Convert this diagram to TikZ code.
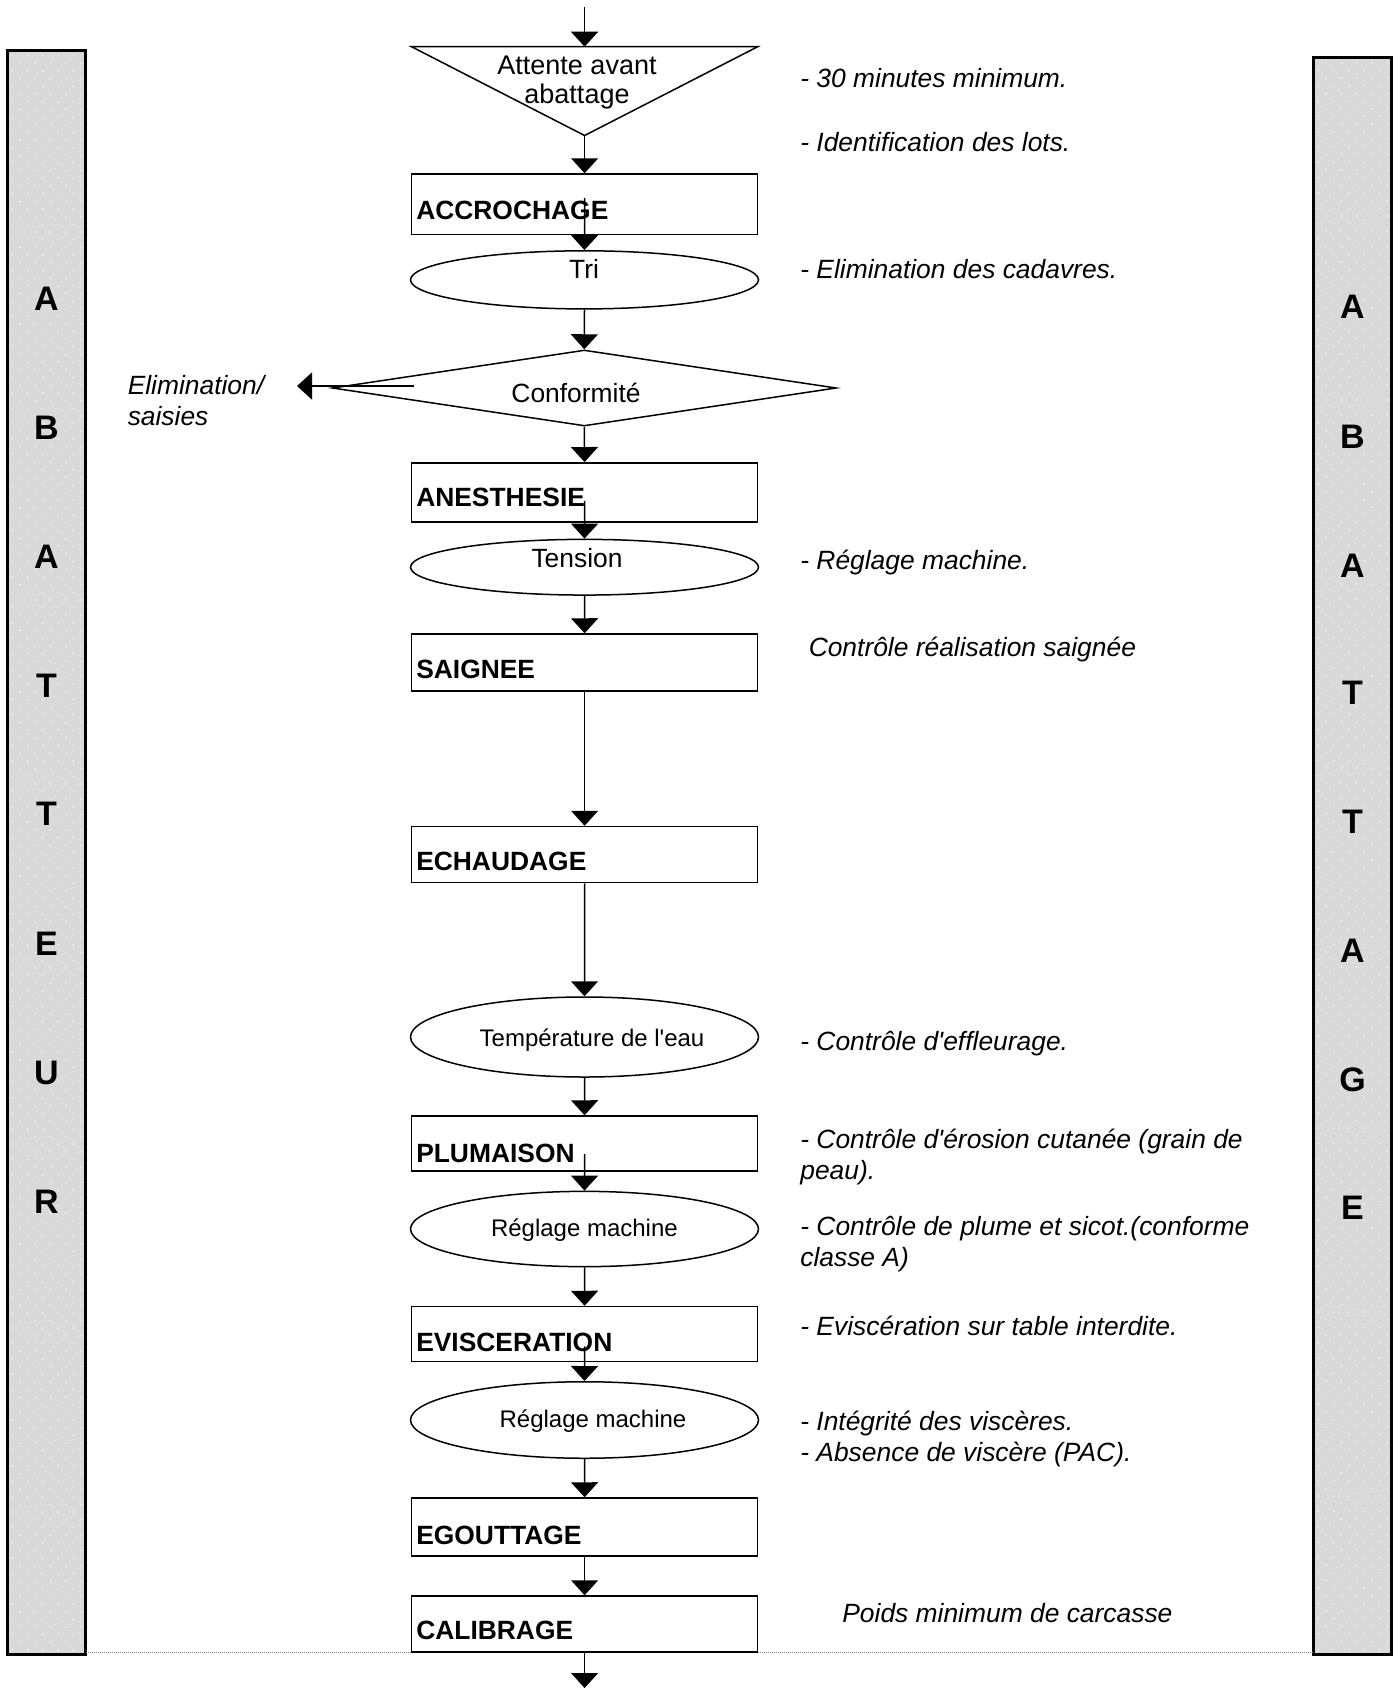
\documentclass[tikz,border=0pt]{standalone}
\usepackage{fontspec}
\setmainfont{Liberation Sans}[Ligatures=TeXOff]
\usetikzlibrary{shapes.geometric,arrows.meta}
\definecolor{barfill}{RGB}{217,217,217}
\definecolor{dotc}{RGB}{245,245,245}
\begin{document}
\begin{tikzpicture}[x=0.5pt,y=-0.5pt,
  line width=0.75pt,
  arr/.style={-{Triangle[width=13.5pt,length=7.5pt]}},
  stepbox/.style={draw, fill=white, rectangle, minimum width=173.1pt, inner sep=0pt},
  oval/.style={draw, fill=white, ellipse, minimum width=174pt, inner sep=0pt},
  sidebar/.style={draw, line width=0.85pt, fill=barfill, minimum width=38.5pt, inner sep=0pt},
  boxlabel/.style={anchor=west, font=\fontsize{13.2}{15}\selectfont\bfseries, inner sep=0pt, text height=9.5pt, text depth=0pt},
  notetxt/.style={anchor=west, font=\fontsize{13.2}{15}\selectfont\itshape, inner sep=0pt, text height=9.5pt, text depth=0pt},
  notetwo/.style={anchor=west, font=\fontsize{13.2}{15.5}\selectfont\itshape, align=left, inner sep=0pt},
  midtxt/.style={font=\fontsize{13.2}{15}\selectfont, inner sep=0pt, text height=9.5pt, text depth=0pt},
  smalltxt/.style={font=\fontsize{12}{14}\selectfont, inner sep=0pt, text height=8.6pt, text depth=0pt},
  barletter/.style={font=\fontsize{17}{20}\selectfont\bfseries, inner sep=0pt, text height=12.2pt, text depth=0pt}
]
\useasboundingbox (0,0) rectangle (1399,1688);

% side bars
\node[sidebar, minimum height=801.5pt] (lbar) at (46.5,852.5) {};
\node[sidebar, minimum height=798pt] (rbar) at (1352.5,856) {};
\begin{scope}
  \clip (lbar.south west) rectangle (lbar.north east);
  \foreach \r in {0,...,104} {
    \foreach \k in {0,...,4} {
      \fill[dotc] ({12.3+15.3*\k},{55.7+15.33*\r}) circle[radius=0.45pt];
      \fill[dotc] ({20+15.3*\k},{63.4+15.33*\r}) circle[radius=0.45pt];
    }
  }
\end{scope}
\begin{scope}
  \clip (rbar.south west) rectangle (rbar.north east);
  \foreach \r in {0,...,104} {
    \foreach \k in {0,...,4} {
      \fill[dotc] ({1326+15.3*\k},{62.7+15.33*\r}) circle[radius=0.45pt];
      \fill[dotc] ({1318.3+15.3*\k},{70.4+15.33*\r}) circle[radius=0.45pt];
    }
  }
\end{scope}
\draw[line width=0.85pt] (lbar.south west) rectangle (lbar.north east);
\draw[line width=0.85pt] (rbar.south west) rectangle (rbar.north east);

% bar letters
\foreach \l/\yy in {A/298,B/427,A/556,T/685.5,T/813.6,E/942.8,U/1072,R/1201}
  \node[barletter] at (46.5,\yy) {\l};
\foreach \l/\yy in {A/306.7,B/435.9,A/565,T/692,T/821,A/950,G/1079,E/1207.5}
  \node[barletter] at (1352.5,\yy) {\l};

% triangle
\coordinate (top) at (584.6,7);
\coordinate (tritop) at (584.6,46.7);
\coordinate (apex) at (584.6,135.5);
\draw[fill=white] (411.5,46.7) -- (757.7,46.7) -- (apex) -- cycle;
\node[font=\fontsize{13.5}{14.5}\selectfont, align=center, inner sep=0pt] (att) at (577,83) {Attente avant\\abattage};

% boxes
\node[stepbox, minimum height=30.25pt] (acc) at (584.6,204.25) {};
\node[stepbox, minimum height=29.6pt] (anes) at (584.6,492.4) {};
\node[stepbox, minimum height=28.5pt] (saig) at (584.6,662.5) {};
\node[stepbox, minimum height=28pt] (ech) at (584.6,854.5) {};
\node[stepbox, minimum height=27.5pt] (plum) at (584.6,1143.5) {};
\node[stepbox, minimum height=27.5pt] (evis) at (584.6,1334) {};
\node[stepbox, minimum height=29pt] (egou) at (584.6,1527) {};

% dotted line
\draw[gray, line width=0.5pt, dash pattern=on 0.5pt off 0.5pt] (lbar.east |- 0,1652) -- (rbar.west |- 0,1652);
\node[stepbox, minimum height=28pt] (calib) at (584.6,1624) {};

\node[boxlabel] at (415.5,209.5) {ACCROCHAGE};
\node[boxlabel] at (415.5,497) {ANESTHESIE};
\node[boxlabel] at (415.5,669.4) {SAIGNEE};
\node[boxlabel] at (415.5,861) {ECHAUDAGE};
\node[boxlabel] at (415.5,1152.5) {PLUMAISON};
\node[boxlabel] at (415.5,1342) {EVISCERATION};
\node[boxlabel] at (415.5,1535) {EGOUTTAGE};
\node[boxlabel] at (415.5,1630) {CALIBRAGE};

% ellipses
\node[oval, minimum height=29.05pt] (tri) at (584.5,279.85) {};
\node[oval, minimum height=27.85pt] (tens) at (584.5,567.2) {};
\node[oval, minimum height=40pt] (temp) at (584.5,1037) {};
\node[oval, minimum height=37.65pt] (reg1) at (584.5,1229) {};
\node[oval, minimum height=38.25pt] (reg2) at (584.5,1420) {};
\node[midtxt] at (584,269) {Tri};
\node[midtxt] at (577,557.7) {Tension};
\node[smalltxt] at (592,1038) {Température de l'eau};
\node[smalltxt] at (584.4,1228) {Réglage machine};
\node[smalltxt] at (593,1418.5) {Réglage machine};

% diamond
\node[draw, fill=white, diamond, minimum width=252pt, minimum height=38pt, inner sep=0pt] (conf) at (584.3,388) {};
\node[midtxt] at (576,393) {Conformité};
\coordinate (elim) at (297,386);
\node[notetwo] at (127,400.7) {Elimination/\\saisies};

% connectors
\draw[arr] (top) -- (tritop);
\draw[arr] (apex) -- (acc.north);
\draw[arr] ([yshift=18.75pt]acc.south) -- (tri.north);
\draw[arr] (tri.south) -- (conf.north);
\draw[arr] ([xshift=41.25pt,yshift=1pt]conf.west) -- (elim);
\draw[arr] (conf.south) -- (anes.north);
\draw[arr] ([yshift=11pt]anes.south) -- (tens.north);
\draw[arr] (tens.south) -- (saig.north);
\draw[arr] (saig.south) -- (ech.north);
\draw[arr] (ech.south) -- (temp.north);
\draw[arr] (temp.south) -- (plum.north);
\draw[arr] ([yshift=9pt]plum.south) -- (reg1.north);
\draw[arr] (reg1.south) -- (evis.north);
\draw[arr] ([yshift=8pt]evis.south) -- (reg2.north);
\draw[arr] (reg2.south) -- (egou.north);
\draw[arr] (egou.south) -- (calib.north);
\coordinate (bot) at (584.6,1688);
\draw[arr] (calib.south) -- (bot);

% annotations
\node[notetxt] at (799.6,77.5) {- 30 minutes minimum.};
\node[notetxt] at (799.6,142) {- Identification des lots.};
\node[notetxt] at (799.6,269) {- Elimination des cadavres.};
\node[notetxt] at (799.6,559.6) {- Réglage machine.};
\node[notetxt] at (808,646.8) {Contrôle réalisation saignée};
\node[notetxt] at (799.6,1040.7) {- Contrôle d'effleurage.};
\node[notetwo] at (799.6,1156.7) {- Contrôle d'érosion cutanée (grain de\\peau).};
\node[notetwo] at (799.6,1243.7) {- Contrôle de plume et sicot.(conforme\\classe A)};
\node[notetxt] at (799.6,1326) {- Eviscération sur table interdite.};
\node[notetwo] at (799.6,1438.7) {- Intégrité des viscères.\\- Absence de viscère (PAC).};
\node[notetxt] at (841.6,1613) {Poids minimum de carcasse};
\end{tikzpicture}
\end{document}
